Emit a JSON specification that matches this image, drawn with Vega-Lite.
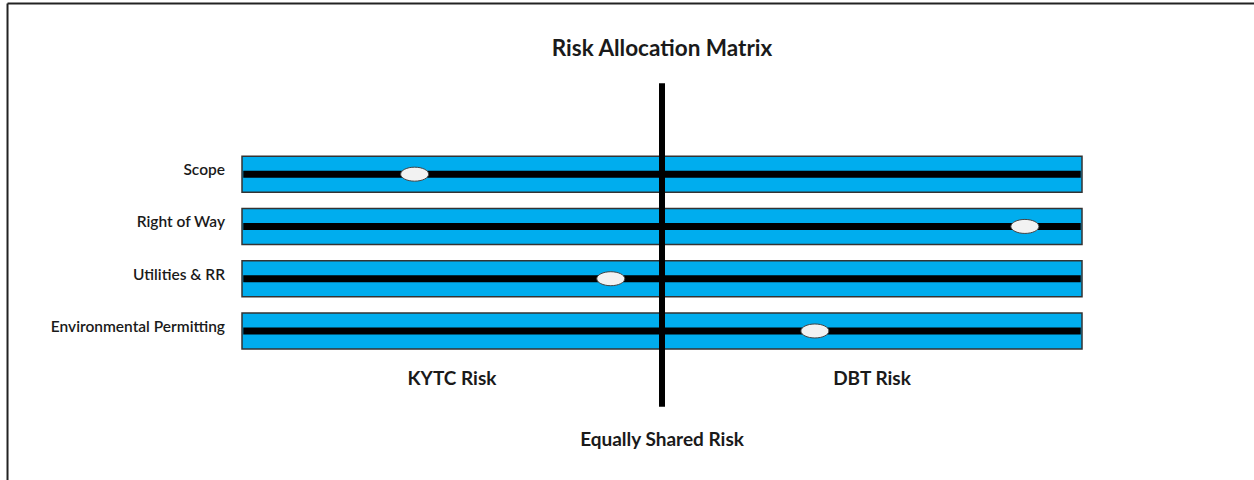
{
  "$schema": "https://vega.github.io/schema/vega-lite/v6.json",
  "width": 1254,
  "height": 480,
  "autosize": {"type": "none"},
  "padding": 0,
  "background": "white",
  "config": {"view": {"stroke": null}},
  "datasets": {
    "rows": [
      {"risk": "Scope", "row": 1, "position": -0.589},
      {"risk": "Right of Way", "row": 2, "position": 0.864},
      {"risk": "Utilities & RR", "row": 3, "position": -0.122},
      {"risk": "Environmental Permitting", "row": 4, "position": 0.364}
    ],
    "labels": [
      {"text": "KYTC Risk", "x": -0.5, "y": 5.034, "kind": "side"},
      {"text": "DBT Risk", "x": 0.5, "y": 5.034, "kind": "side"},
      {"text": "Equally Shared Risk", "x": 0, "y": 6.21, "kind": "side"},
      {"text": "Risk Allocation Matrix", "x": 0, "y": -1.2665, "kind": "title"}
    ]
  },
  "encoding": {
    "x": {"type": "quantitative", "scale": {"domain": [-1.5762, 1.4095], "nice": false, "zero": false, "padding": 0}, "axis": null},
    "y": {"type": "quantitative", "scale": {"domain": [-2.332, 6.851], "nice": false, "zero": false, "reverse": true, "padding": 0}, "axis": null}
  },
  "layer": [
    {
      "data": {"values": [{}]},
      "mark": {"type": "rule", "stroke": "#222", "strokeWidth": 2},
      "encoding": {
        "x": {"datum": -1.5583, "type": "quantitative"},
        "y": {"datum": -2.265, "type": "quantitative"},
        "y2": {"datum": 6.851}
      }
    },
    {
      "data": {"values": [{}]},
      "mark": {"type": "rule", "stroke": "#222", "strokeWidth": 2},
      "encoding": {
        "x": {"datum": -1.5583, "type": "quantitative"},
        "x2": {"datum": 1.4095},
        "y": {"datum": -2.265, "type": "quantitative"}
      }
    },
    {
      "data": {"name": "rows"},
      "mark": {"type": "bar", "size": 36, "fill": "#00adee", "stroke": "#333", "strokeWidth": 1.5},
      "encoding": {
        "x": {"datum": -1, "type": "quantitative"},
        "x2": {"datum": 1},
        "y": {"field": "row", "type": "quantitative"}
      }
    },
    {
      "data": {"name": "rows"},
      "mark": {"type": "rule", "stroke": "black", "strokeWidth": 7},
      "encoding": {
        "x": {"datum": -0.997, "type": "quantitative"},
        "x2": {"datum": 0.997},
        "y": {"field": "row", "type": "quantitative"}
      }
    },
    {
      "data": {"values": [{}]},
      "mark": {"type": "rule", "stroke": "black", "strokeWidth": 6},
      "encoding": {
        "x": {"datum": 0, "type": "quantitative"},
        "y": {"datum": -0.738, "type": "quantitative"},
        "y2": {"datum": 5.449}
      }
    },
    {
      "data": {"name": "rows"},
      "mark": {"type": "point", "shape": "M-1,0A1,0.5,0,1,0,1,0A1,0.5,0,1,0,-1,0Z", "size": 784, "filled": true, "fill": "#f2f2f2", "stroke": "#444", "strokeWidth": 1, "opacity": 1},
      "encoding": {
        "x": {"field": "position", "type": "quantitative"},
        "y": {"field": "row", "type": "quantitative"}
      }
    },
    {
      "data": {"name": "rows"},
      "mark": {"type": "text", "font": "Lato", "fontSize": 15.5, "fontWeight": 600, "fill": "#1a1a1a", "align": "right", "baseline": "alphabetic", "dx": -17, "dy": 1},
      "encoding": {
        "x": {"datum": -1, "type": "quantitative"},
        "y": {"field": "row", "type": "quantitative"},
        "text": {"field": "risk"}
      }
    },
    {
      "data": {"name": "labels"},
      "transform": [{"filter": "datum.kind === 'side'"}],
      "mark": {"type": "text", "font": "Lato", "fontSize": 19, "fontWeight": "bold", "fill": "#1a1a1a", "align": "center", "baseline": "alphabetic"},
      "encoding": {
        "x": {"field": "x", "type": "quantitative"},
        "y": {"field": "y", "type": "quantitative"},
        "text": {"field": "text"}
      }
    },
    {
      "data": {"name": "labels"},
      "transform": [{"filter": "datum.kind === 'title'"}],
      "mark": {"type": "text", "font": "Lato", "fontSize": 22.5, "fontWeight": "bold", "fill": "#1a1a1a", "align": "center", "baseline": "alphabetic"},
      "encoding": {
        "x": {"field": "x", "type": "quantitative"},
        "y": {"field": "y", "type": "quantitative"},
        "text": {"field": "text"}
      }
    }
  ]
}
